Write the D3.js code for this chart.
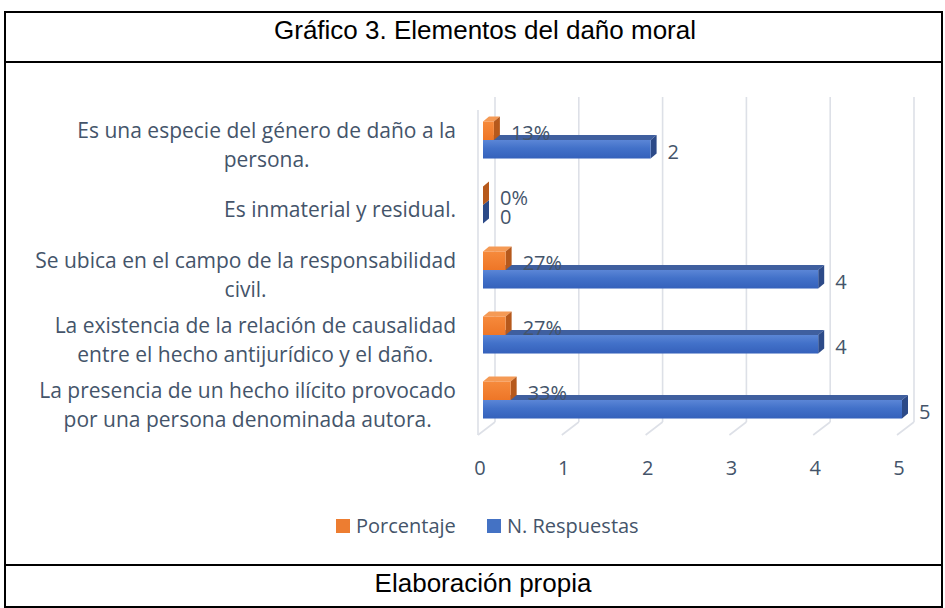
<!DOCTYPE html>
<html>
<head>
<meta charset="utf-8">
<script src="https://cdn.jsdelivr.net/npm/d3@7"></script>
<style>
  body { margin: 0; background: #fff; }
  svg { display: block; }
  .frame { font-family: "Liberation Sans", Arial, sans-serif; }
  .lbl { font-family: "Open Sans", Lato, sans-serif; fill: #44546a; }
</style>
</head>
<body>
<div id="chart-area"></div>
<script>
// chart data (display order, top to bottom)
var categories = [
    ["Es una especie del género de daño a la", "persona."],
    ["Es inmaterial y residual."],
    ["Se ubica en el campo de la responsabilidad", "civil."],
    ["La existencia de la relación de causalidad", "entre el hecho antijurídico y el daño."],
    ["La presencia de un hecho ilícito provocado", "por una persona denominada autora."]
];
var porcentaje = [0.13, 0, 0.27, 0.27, 0.33];
var respuestas = [2, 0, 4, 4, 5];
var seriesNames = ["Porcentaje", "N. Respuestas"];
var xTicks = [0, 1, 2, 3, 4, 5];

var chartWidth = 945,
    chartHeight = 608;

var svg = d3.select("#chart-area").append("svg")
    .attr("width", chartWidth)
    .attr("height", chartHeight);

// gradients for bar faces
var defs = svg.append("defs");
function vGrad(id, stops) {
    var g = defs.append("linearGradient").attr("id", id)
        .attr("x1", 0).attr("y1", 0).attr("x2", 0).attr("y2", 1);
    stops.forEach(function(s) {
        g.append("stop").attr("offset", s[0]).attr("stop-color", s[1]);
    });
}
vGrad("blueFront", [[0, "#5b86d6"], [0.45, "#4271c9"], [1, "#3561bb"]]);
vGrad("orangeFront", [[0, "#f68a3c"], [1, "#ee7627"]]);

var colors = {
    "Porcentaje": { front: "url(#orangeFront)", top: "#f59a55", side: "#b6591c", key: "#ed7d31" },
    "N. Respuestas": { front: "url(#blueFront)", top: "#3f5f9f", side: "#2c4a88", key: "#4472c4" }
};

// outer table frame
var frame = svg.append("g").attr("class", "frame");
frame.append("rect")
    .attr("x", 5).attr("y", 12)
    .attr("width", 937).attr("height", 595)
    .attr("fill", "none").attr("stroke", "#000").attr("stroke-width", 2);
[62, 565].forEach(function(yy) {
    frame.append("line")
        .attr("x1", 5).attr("x2", 942)
        .attr("y1", yy).attr("y2", yy)
        .attr("stroke", "#000").attr("stroke-width", 2);
});
frame.append("text")
    .attr("x", 485).attr("y", 39)
    .attr("text-anchor", "middle")
    .style("font-size", "26px")
    .text("Gráfico 3. Elementos del daño moral");
frame.append("text")
    .attr("x", 483).attr("y", 592)
    .attr("text-anchor", "middle")
    .style("font-size", "26px")
    .text("Elaboración propia");

// scales (front plane of the 3D box)
var x = d3.scaleLinear()
    .domain([0, 5])
    .range([478, 897]);

var depth = { dx: 17, dy: -13 };     // wall offset
var bar3d = { dx: 6, dy: -5, ox: 5 }; // bar thickness + offset

var floorY = 435, backTop = 97;

var y = d3.scaleBand()
    .domain(d3.range(categories.length))
    .range([107.5, 432.5])
    .paddingInner(0.43)
    .paddingOuter(0.215);

var ySub = d3.scaleBand()
    .domain(seriesNames)
    .range([0, y.bandwidth()]);

// gridlines: back wall + floor
var grid = svg.append("g").attr("class", "grid")
    .attr("stroke", "#dde0e7").attr("stroke-width", 1.6).attr("fill", "none");

grid.selectAll(".back").data(xTicks).enter().append("line")
    .attr("x1", d => x(d) + depth.dx).attr("x2", d => x(d) + depth.dx)
    .attr("y1", backTop).attr("y2", floorY + depth.dy);

grid.selectAll(".floor").data(xTicks).enter().append("line")
    .attr("x1", d => x(d) + depth.dx).attr("y1", floorY + depth.dy)
    .attr("x2", d => x(d)).attr("y2", floorY);

grid.append("line")
    .attr("x1", x(0)).attr("x2", x(0))
    .attr("y1", backTop - depth.dy).attr("y2", floorY);

// x axis labels
svg.append("g").selectAll("text").data(xTicks).enter().append("text")
    .attr("class", "lbl")
    .attr("x", d => x(d) + 2)
    .attr("y", 475)
    .attr("text-anchor", "middle")
    .style("font-size", "20px")
    .text(d => d);

// bars
var rows = categories.map(function(c, i) {
    return [
        { cat: i, series: "N. Respuestas", value: respuestas[i], label: respuestas[i] },
        { cat: i, series: "Porcentaje", value: porcentaje[i], label: d3.format(".0%")(porcentaje[i]) }
    ];
});
var flat = [].concat.apply([], rows);

function barGeom(d) {
    var x0 = x(0) + bar3d.ox,
        x1 = x(d.value) + bar3d.ox,
        top = y(d.cat) + ySub(d.series),
        h = ySub.bandwidth();
    return { x0: x0, x1: x1, top: top, h: h };
}

var bars = svg.append("g").selectAll("g.bar").data(flat).enter().append("g")
    .attr("class", "bar");

bars.append("polygon")
    .attr("fill", d => colors[d.series].top)
    .attr("points", function(d) {
        var g = barGeom(d);
        return [[g.x0, g.top], [g.x0 + bar3d.dx, g.top + bar3d.dy],
                [g.x1 + bar3d.dx, g.top + bar3d.dy], [g.x1, g.top]].join(" ");
    });

bars.append("polygon")
    .attr("fill", d => colors[d.series].side)
    .attr("points", function(d) {
        var g = barGeom(d);
        return [[g.x1, g.top], [g.x1 + bar3d.dx, g.top + bar3d.dy],
                [g.x1 + bar3d.dx, g.top + g.h + bar3d.dy], [g.x1, g.top + g.h]].join(" ");
    });

bars.append("rect")
    .attr("fill", d => colors[d.series].front)
    .attr("x", d => barGeom(d).x0)
    .attr("y", d => barGeom(d).top)
    .attr("width", d => barGeom(d).x1 - barGeom(d).x0)
    .attr("height", d => barGeom(d).h);

// data labels
svg.append("g").selectAll("text").data(flat).enter().append("text")
    .attr("class", "lbl")
    .attr("x", d => barGeom(d).x1 + 17)
    .attr("y", d => barGeom(d).top + barGeom(d).h / 2 + 2.5)
    .attr("dy", "0.35em")
    .style("font-size", "20px")
    .text(d => d.label);

// category labels, wrapped lines centred, block right-aligned
var catLabels = svg.append("g").selectAll("text").data(categories).enter().append("text")
    .attr("class", "lbl")
    .attr("text-anchor", "middle")
    .style("font-size", "21px");

catLabels.each(function(lines, i) {
    var t = d3.select(this);
    var lh = 29;
    var cy = y(i) + y.bandwidth() / 2 + 5;
    var first = cy - (lines.length - 1) * lh / 2;
    lines.forEach(function(l, j) {
        t.append("tspan").attr("y", first + j * lh).attr("dy", "0.35em").text(l);
    });
    var maxW = 0;
    t.selectAll("tspan").each(function() {
        maxW = Math.max(maxW, this.getComputedTextLength());
    });
    t.selectAll("tspan").attr("x", 456 - maxW / 2);
});

// legend
var legendX = [336, 487];
var legend = svg.append("g").selectAll("g").data(seriesNames).enter().append("g")
    .attr("transform", (d, i) => "translate(" + legendX[i] + ",519)");
legend.append("rect")
    .attr("width", 14).attr("height", 14)
    .attr("fill", d => colors[d].key);
legend.append("text")
    .attr("class", "lbl")
    .attr("x", 20).attr("y", 7).attr("dy", "0.35em")
    .style("font-size", "20px")
    .text(d => d);
</script>
</body>
</html>
